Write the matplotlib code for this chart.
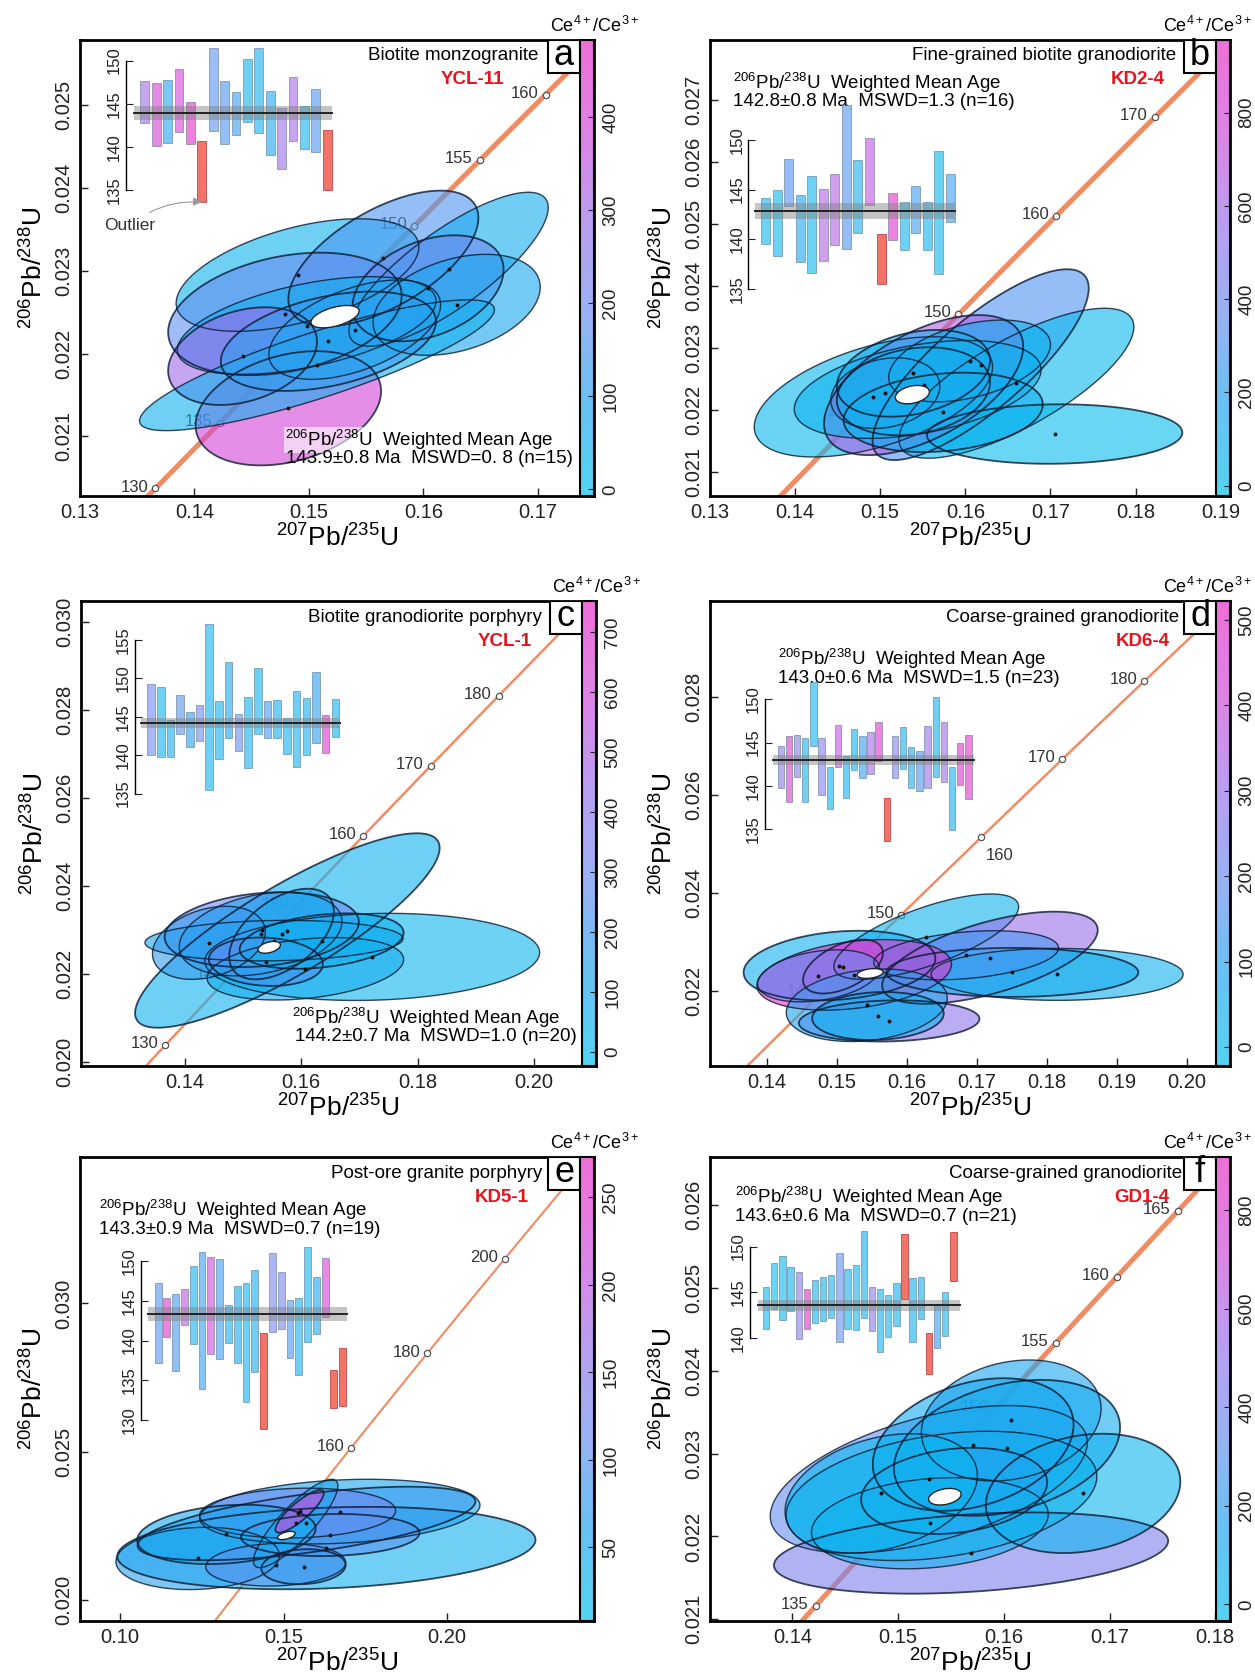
import numpy as np
import matplotlib
matplotlib.use("Agg")
import matplotlib.pyplot as plt
from matplotlib.colors import LinearSegmentedColormap, Normalize
from matplotlib.patches import Polygon, Rectangle
from matplotlib.cm import ScalarMappable

plt.rcParams['font.family'] = ['Liberation Sans', 'DejaVu Sans']
plt.rcParams['mathtext.default'] = 'regular'

# ---------------- data: zircon U-Pb ellipses (x=207Pb/235U, y=206Pb/238U, half widths, rho, Ce4+/Ce3+)
a_ex = [0.1482, 0.1490, 0.1565, 0.1622, 0.1604, 0.1629, 0.1479, 0.1498, 0.1442, 0.1507, 0.1517, 0.1540]
a_ey = [0.02134, 0.02295, 0.02315, 0.02302, 0.02279, 0.02259, 0.02248, 0.02234, 0.02197, 0.02186, 0.02215, 0.02229]
a_sx = [0.0081, 0.0106, 0.0083, 0.0087, 0.0066, 0.0073, 0.0102, 0.0113, 0.0065, 0.0155, 0.0094, 0.0075]
a_sy = [0.00069, 0.00068, 0.00082, 0.00093, 0.00064, 0.00061, 0.00074, 0.00059, 0.00059, 0.00079, 0.00060, 0.00060]
a_rho = [0.3, 0.5, 0.6, 0.8, 0.35, 0.35, 0.3, 0.5, 0.3, 0.85, 0.4, 0.5]
a_ce = [400, 40, 150, 60, 200, 80, 180, 60, 300, 50, 120, 100]

b_ex = [0.1618, 0.1660, 0.1705, 0.1492, 0.1551, 0.1506, 0.1539, 0.1544, 0.1574, 0.1605, 0.1539]
b_ey = [0.02273, 0.02243, 0.02161, 0.02221, 0.02240, 0.02227, 0.02230, 0.02233, 0.02196, 0.02279, 0.02259]
b_sx = [0.0127, 0.0138, 0.0150, 0.0140, 0.0117, 0.0064, 0.0090, 0.0145, 0.0117, 0.0095, 0.0090]
b_sy = [0.00154, 0.00121, 0.00048, 0.00097, 0.00113, 0.00057, 0.00071, 0.00079, 0.00064, 0.00066, 0.00070]
b_rho = [0.8, 0.75, 0.05, 0.5, 0.55, 0.2, 0.2, 0.4, 0.2, 0.4, 0.3]
b_ce = [300, 40, 20, 40, 650, 850, 200, 60, 80, 100, 120]

c_ex = [0.1576, 0.1722, 0.1532, 0.1530, 0.1566, 0.1553, 0.1539, 0.1607, 0.1635, 0.1441]
c_ey = [0.02298, 0.02238, 0.02300, 0.02290, 0.02290, 0.02275, 0.02227, 0.02211, 0.02274, 0.02270]
c_sx = [0.0262, 0.0288, 0.0167, 0.0140, 0.0090, 0.0222, 0.0098, 0.0169, 0.0141, 0.0097]
c_sy = [0.00221, 0.00099, 0.00085, 0.00095, 0.00103, 0.00046, 0.00055, 0.00071, 0.00063, 0.00083]
c_rho = [0.85, 0.1, 0.2, 0.3, 0.5, 0.1, -0.1, 0.3, 0.3, 0.3]
c_ce = [60, 40, 300, 150, 100, 120, 450, 80, 60, 180]

d_ex = [0.1575, 0.1628, 0.1719, 0.1815, 0.1751, 0.1685, 0.1504, 0.1525, 0.1509, 0.1543, 0.1559, 0.1474]
d_ey = [0.02138, 0.02310, 0.02267, 0.02233, 0.02237, 0.02272, 0.02251, 0.02232, 0.02249, 0.02170, 0.02148, 0.02230]
d_sx = [0.0129, 0.0132, 0.0154, 0.0180, 0.0180, 0.0132, 0.0137, 0.0139, 0.0057, 0.0115, 0.0094, 0.0087]
d_sy = [0.00042, 0.00087, 0.00094, 0.00053, 0.00050, 0.00050, 0.00071, 0.00072, 0.00055, 0.00074, 0.00049, 0.00053]
d_rho = [0.1, 0.7, 0.6, 0.0, 0.0, 0.3, 0.2, 0.3, 0.5, 0.2, 0.1, 0.3]
d_ce = [280, 30, 300, 40, 60, 150, 40, 480, 430, 80, 50, 200]

e_ex = [0.1631, 0.1672, 0.1570, 0.1543, 0.1643, 0.1237, 0.1325, 0.1476, 0.1561, 0.1537, 0.1549]
e_ey = [0.02175, 0.02298, 0.02258, 0.02293, 0.02219, 0.02140, 0.02221, 0.02119, 0.02112, 0.02258, 0.02299]
e_sx = [0.0640, 0.0429, 0.0517, 0.0300, 0.0273, 0.0250, 0.0273, 0.0214, 0.0129, 0.0129, 0.0074]
e_sy = [0.00139, 0.00109, 0.00124, 0.00084, 0.00071, 0.00105, 0.00100, 0.00072, 0.00059, 0.00149, 0.00072]
e_rho = [0.2, 0.2, 0.6, 0.1, 0.1, 0.1, 0.2, 0.1, 0.1, 0.85, 0.85]
e_ce = [40, 60, 80, 120, 100, 70, 50, 100, 80, 50, 220]

f_ex = [0.1569, 0.1529, 0.1675, 0.1607, 0.1603, 0.1541, 0.1553, 0.1530, 0.1571, 0.1484]
f_ey = [0.02180, 0.02269, 0.02252, 0.02340, 0.02307, 0.02249, 0.02255, 0.02216, 0.02311, 0.02252]
f_sx = [0.01865, 0.0150, 0.0092, 0.0085, 0.0107, 0.0147, 0.0088, 0.0112, 0.0095, 0.0091]
f_sy = [0.00049, 0.00089, 0.00072, 0.00073, 0.00082, 0.00078, 0.00052, 0.00055, 0.00080, 0.00072]
f_rho = [0.3, 0.5, 0.2, 0.2, 0.3, 0.3, 0.2, 0.2, 0.3, 0.3]
f_ce = [420, 330, 40, 150, 100, 60, 180, 80, 120, 50]

# weighted mean ellipse: x, y, sx, sy, rho
a_mean_ell = [0.15228, 0.022447, 0.0021, 0.000135, 0.5]
b_mean_ell = [0.15378, 0.022246, 0.0020, 0.000148, 0.3]
c_mean_ell = [0.15448, 0.022597, 0.00193, 0.000134, 0.4]
d_mean_ell = [0.15478, 0.022348, 0.00186, 0.00010, 0.3]
e_mean_ell = [0.15086, 0.022174, 0.0027, 0.00014, 0.5]
f_mean_ell = [0.15442, 0.02248, 0.00154, 0.00010, 0.3]

# 206Pb/238U ages (Ma) for the inset bar plots; ce=None -> outlier (red)
a_lo = [142.8, 140.1, 140.4, 141.7, 140.3, 133.6, 141.8, 140.3, 141.4, 142.9, 141.6, 139.0, 137.4, 140.7, 139.7, 139.4, 135.0]
a_hi = [147.6, 147.4, 147.8, 149.0, 145.2, 140.7, 151.4, 147.6, 146.3, 150.2, 151.4, 146.5, 144.5, 148.1, 144.7, 146.7, 141.9]
a_bce = [300, 420, 100, 400, 470, None, 170, 150, 120, 40, 50, 90, 290, 310, 40, 150, None]

b_lo = [139.5, 138.3, 143.3, 137.7, 136.6, 137.8, 139.4, 139.0, 140.6, 143.4, 135.5, 139.9, 138.9, 140.6, 138.9, 136.5, 141.7]
b_hi = [144.2, 145.0, 148.1, 144.5, 146.4, 145.1, 146.6, 153.5, 148.0, 150.2, 140.5, 144.7, 143.7, 145.4, 143.7, 148.9, 146.6]
b_bce = [40, 40, 300, 150, 40, 650, 650, 300, 120, 700, None, 900, 80, 250, 80, 40, 250]

c_lo = [140.0, 139.7, 139.7, 142.8, 141.0, 141.8, 135.4, 139.5, 142.2, 140.6, 138.3, 142.8, 142.2, 142.2, 140.1, 138.5, 140.0, 141.6, 140.3, 142.4]
c_hi = [149.3, 148.9, 144.6, 147.8, 145.6, 146.6, 157.1, 147.0, 152.2, 145.3, 147.6, 151.3, 147.1, 147.2, 144.8, 148.4, 147.4, 150.9, 145.2, 147.3]
c_bce = [300, 60, 80, 250, 150, 300, 60, 60, 130, 280, 60, 60, 200, 80, 60, 60, 80, 150, 700, 60]

d_lo = [139.8, 138.2, 141.0, 138.2, 144.6, 139.0, 137.3, 142.2, 138.6, 141.8, 140.9, 141.4, 142.9, 133.6, 140.9, 142.0, 139.8, 139.4, 139.8, 141.0, 140.5, 134.9, 140.1, 138.5]
d_hi = [144.6, 145.7, 145.9, 145.5, 152.0, 145.5, 142.2, 147.0, 143.4, 146.5, 145.8, 146.2, 147.4, 138.6, 145.7, 146.8, 144.5, 144.0, 146.9, 150.3, 147.4, 142.2, 145.0, 145.9]
d_bce = [280, 470, 260, 40, 40, 250, 40, 380, 40, 40, 120, 330, 470, None, 250, 40, 60, 150, 300, 40, 300, 40, 470, 490]

e_lo = [137.2, 140.5, 136.2, 141.9, 139.6, 133.9, 138.3, 137.7, 139.7, 137.2, 132.3, 136.0, 128.9, 141.1, 141.5, 137.8, 135.7, 139.8, 140.8, 142.9, 131.5, 131.8]
e_hi = [147.2, 145.4, 145.9, 146.5, 149.4, 151.1, 150.5, 150.2, 144.5, 146.9, 147.2, 148.8, 140.9, 151.0, 148.6, 145.1, 145.4, 151.7, 148.0, 150.4, 136.3, 139.0]
e_bce = [100, 260, 90, 200, 40, 80, 220, 80, 40, 50, 40, 50, None, 130, 130, 90, 40, 30, 60, 240, None, None]

f_lo = [141.0, 143.2, 142.0, 143.0, 139.9, 141.0, 141.7, 141.9, 142.2, 139.6, 141.0, 140.9, 142.2, 140.8, 138.5, 140.2, 141.3, 144.3, 139.6, 142.1, 136.1, 139.0, 140.3, 146.2]
f_hi = [145.6, 148.2, 149.0, 147.8, 147.2, 145.4, 146.4, 146.7, 146.9, 149.3, 147.6, 148.0, 151.7, 145.6, 145.4, 144.7, 146.0, 151.4, 146.6, 146.7, 140.6, 143.7, 145.0, 151.6]
f_bce = [30, 30, 30, 60, 500, 900, 30, 60, 30, 330, 60, 60, 100, 450, 60, 60, 60, None, 60, 100, None, 200, 60, None]

mean_age = [143.9, 142.8, 144.2, 143.0, 143.3, 143.6]
mean_err = [0.8, 0.8, 0.7, 0.6, 0.9, 0.6]
mean_txt = ["143.9\u00b10.8 Ma  MSWD=0. 8 (n=15)", "142.8\u00b10.8 Ma  MSWD=1.3 (n=16)",
            "144.2\u00b10.7 Ma  MSWD=1.0 (n=20)", "143.0\u00b10.6 Ma  MSWD=1.5 (n=23)",
            "143.3\u00b10.9 Ma  MSWD=0.7 (n=19)", "143.6\u00b10.6 Ma  MSWD=0.7 (n=21)"]
rocks = ["Biotite monzogranite", "Fine-grained biotite granodiorite", "Biotite granodiorite porphyry",
         "Coarse-grained granodiorite", "Post-ore granite porphyry", "Coarse-grained granodiorite"]
samples = ["YCL-11", "KD2-4", "YCL-1", "KD6-4", "KD5-1", "GD1-4"]
letters = ["a", "b", "c", "d", "e", "f"]

conc_ages = [[130, 135, 140, 145, 150, 155, 160], [140, 150, 160, 170], [130, 140, 150, 160, 170, 180],
             [140, 150, 160, 170, 180], [140, 160, 180, 200], [135, 140, 145, 150, 155, 160, 165]]

xticks = [[0.13, 0.14, 0.15, 0.16, 0.17], [0.13, 0.14, 0.15, 0.16, 0.17, 0.18, 0.19],
          [0.14, 0.16, 0.18, 0.20], [0.14, 0.15, 0.16, 0.17, 0.18, 0.19, 0.20],
          [0.10, 0.15, 0.20], [0.14, 0.15, 0.16, 0.17, 0.18]]
yticks = [[0.021, 0.022, 0.023, 0.024, 0.025], [0.021, 0.022, 0.023, 0.024, 0.025, 0.026, 0.027],
          [0.020, 0.022, 0.024, 0.026, 0.028, 0.030], [0.022, 0.024, 0.026, 0.028],
          [0.020, 0.025, 0.030], [0.021, 0.022, 0.023, 0.024, 0.025, 0.026]]
cb_ticks = [[0, 100, 200, 300, 400], [0, 200, 400, 600, 800], [0, 100, 200, 300, 400, 500, 600, 700],
            [0, 100, 200, 300, 400, 500], [50, 100, 150, 200, 250], [0, 200, 400, 600, 800]]
inset_ticks = [[135, 140, 145, 150], [135, 140, 145, 150], [135, 140, 145, 150, 155],
               [135, 140, 145, 150], [130, 135, 140, 145, 150], [140, 145, 150]]

# decay constants, 1/Ma
L238 = 1.55125e-4
L235 = 9.8485e-4

# ---------------- layout / style ----------------
W, H = 1255, 1675
cmap = LinearSegmentedColormap.from_list('ce', ['#00c0ee', '#1ea4ef', '#6a8cf0', '#9a70ea', '#cf48da', '#e82ac6'])
CONC = '#ef8c64'
RED = '#f26b60'

panels = [
    dict(frame=(80, 594, 40, 496), xlim=(0.13, 0.1749), ylim=(0.02028, 0.02579), clim=(-7, 483),
         ell=(a_ex, a_ey, a_sx, a_sy, a_rho, a_ce), mell=a_mean_ell, bars=(a_lo, a_hi, a_bce),
         inset=(0.090, 0.671, 0.955, 0.126, 0.481, 0.105, 0.491), clw=3.6,
         title_x=0.891, sample_x=0.763, mean_pos=(0.66, 0.123, 'center')),
    dict(frame=(710, 1230, 40, 496), xlim=(0.13, 0.1911), ylim=(0.02061, 0.02797), clim=(-22, 956),
         ell=(b_ex, b_ey, b_sx, b_sy, b_rho, b_ce), mell=b_mean_ell, bars=(b_lo, b_hi, b_bce),
         inset=(0.074, 0.454, 0.781, 0.107, 0.462, 0.087, 0.471), clw=3.6,
         title_x=0.897, sample_x=0.822, mean_pos=(0.044, 0.906, 'left')),
    dict(frame=(81, 596, 601, 1066), xlim=(0.1221, 0.2107), ylim=(0.0199, 0.03047), clim=(-23, 752),
         ell=(c_ex, c_ey, c_sx, c_sy, c_rho, c_ce), mell=c_mean_ell, bars=(c_lo, c_hi, c_bce),
         inset=(0.105, 0.586, 0.916, 0.136, 0.494, 0.117, 0.503), clw=1.8,
         title_x=0.895, sample_x=0.822, mean_pos=(0.67, 0.104, 'center')),
    dict(frame=(710, 1230, 601, 1066), xlim=(0.1319, 0.2062), ylim=(0.02046, 0.02995), clim=(-22, 522),
         ell=(d_ex, d_ey, d_sx, d_sy, d_rho, d_ce), mell=d_mean_ell, bars=(d_lo, d_hi, d_bce),
         inset=(0.105, 0.509, 0.789, 0.136, 0.497, 0.121, 0.507), clw=1.8,
         title_x=0.902, sample_x=0.832, mean_pos=(0.131, 0.875, 'left')),
    dict(frame=(80, 594, 1157, 1621), xlim=(0.0877, 0.245), ylim=(0.01929, 0.03494), clim=(8, 273),
         ell=(e_ex, e_ey, e_sx, e_sy, e_rho, e_ce), mell=e_mean_ell, bars=(e_lo, e_hi, e_bce),
         inset=(0.119, 0.433, 0.776, 0.152, 0.511, 0.133, 0.519), clw=1.5,
         title_x=0.900, sample_x=0.821, mean_pos=(0.036, 0.885, 'left')),
    dict(frame=(710, 1230, 1157, 1621), xlim=(0.1322, 0.1814), ylim=(0.02098, 0.02658), clim=(-34, 908),
         ell=(f_ex, f_ey, f_sx, f_sy, f_rho, f_ce), mell=f_mean_ell, bars=(f_lo, f_hi, f_bce),
         inset=(0.076, 0.609, 0.807, 0.108, 0.468, 0.092, 0.480), clw=3.6,
         title_x=0.907, sample_x=0.83, mean_pos=(0.049, 0.913, 'left')),
]


def ell_xy(cx, cy, sx, sy, rho, n=160):
    t = np.linspace(0, 2 * np.pi, n)
    x = cx + sx * np.cos(t)
    y = cy + sy * (rho * np.cos(t) + np.sqrt(1 - rho ** 2) * np.sin(t))
    return np.column_stack([x, y])


fig = plt.figure(figsize=(W / 100, H / 100), dpi=100)

for k, p in enumerate(panels):
    x0, x1, y0, y1 = p['frame']
    fw, fh = x1 - x0, y1 - y0
    ax = fig.add_axes([x0 / W, 1 - y1 / H, fw / W, fh / H])
    ax.set_xlim(*p['xlim'])
    ax.set_ylim(*p['ylim'])
    norm = Normalize(*p['clim'])

    # concordia
    t = np.linspace(0, 400, 2000)
    ax.plot(np.exp(L235 * t) - 1, np.exp(L238 * t) - 1, color=CONC, lw=p['clw'], zorder=1, solid_capstyle='butt')
    for age in conc_ages[k]:
        cx, cy = np.exp(L235 * age) - 1, np.exp(L238 * age) - 1
        ax.plot(cx, cy, 'o', ms=4.5, mfc='white', mec='#555555', mew=0.9, zorder=2)
        if k == 3 and age == 160:
            ax.annotate(str(age), (cx, cy), xytext=(3, -8), textcoords='offset points',
                        ha='left', va='top', fontsize=12, color='#333333', zorder=2)
        else:
            ax.annotate(str(age), (cx, cy), xytext=(-5, 1), textcoords='offset points',
                        ha='right', va='center', fontsize=12, color='#333333', zorder=2)

    # error ellipses coloured by Ce4+/Ce3+
    ex, ey, sx, sy, rho, ce = p['ell']
    for i in range(len(ex)):
        pts = ell_xy(ex[i], ey[i], sx[i], sy[i], rho[i])
        ax.add_patch(Polygon(pts, closed=True, facecolor=cmap(norm(ce[i])), alpha=0.6,
                             edgecolor='none', zorder=3))
        ax.add_patch(Polygon(pts, closed=True, facecolor='none', edgecolor='#0a1a30',
                             lw=1.0 if i % 2 else 1.3, alpha=0.8, zorder=3.5))
    ax.plot(ex, ey, 'o', ms=1.8, color='#111111', zorder=4)
    mx, my, msx, msy, mr = p['mell']
    ax.add_patch(Polygon(ell_xy(mx, my, msx, msy, mr), closed=True, facecolor='white',
                         edgecolor='#222222', lw=1.0, zorder=5))

    # axes cosmetics
    ax.set_xticks(xticks[k])
    ax.set_xticklabels(['%.2f' % v for v in xticks[k]])
    ax.set_yticks(yticks[k])
    ax.set_yticklabels(['%.3f' % v for v in yticks[k]], rotation=90, va='center')
    ax.tick_params(direction='in', length=6, width=1, labelsize=14.5, colors='#222222', pad=5)
    for s in ax.spines.values():
        s.set_linewidth(2.0)
    ax.set_xlabel(r'$^{207}$Pb/$^{235}$U', fontsize=19, labelpad=2)
    ax.set_ylabel(r'$^{206}$Pb/$^{238}$U', fontsize=19, labelpad=5)

    # colour bar strip inside the frame
    cbw = 14
    cax = fig.add_axes([(x1 - cbw) / W, 1 - y1 / H, cbw / W, fh / H])
    cb = fig.colorbar(ScalarMappable(norm=norm, cmap=cmap), cax=cax, alpha=0.68)
    cb.set_ticks(cb_ticks[k])
    cax.tick_params(direction='in', length=4, width=0.8, labelsize=13.5, pad=6, colors='#222222')
    for lab in cax.get_yticklabels():
        lab.set_rotation(90)
        lab.set_va('center')
    cb.outline.set_linewidth(1.5)
    if x1 > W / 2:
        ax.text((W - 3 - x0) / fw, 1.008, r'Ce$^{4+}$/Ce$^{3+}$', transform=ax.transAxes,
                ha='right', va='bottom', fontsize=13)
    else:
        ax.text(1 - 0.5 * cbw / fw + 0.015, 1.008, r'Ce$^{4+}$/Ce$^{3+}$', transform=ax.transAxes,
                ha='center', va='bottom', fontsize=13)

    # panel letter box, rock name and sample
    bw, bh = 32 / fw, 33 / fh
    bx = 1 - cbw / fw - bw
    ax.add_patch(Rectangle((bx, 1 - bh), bw, bh, transform=ax.transAxes, facecolor='white',
                           edgecolor='black', lw=1.5, zorder=6))
    ax.text(bx + bw / 2, 1 - bh / 2 + 0.003, letters[k], transform=ax.transAxes, ha='center', va='center',
            fontsize=26, zorder=7)
    ax.text(p['title_x'], 1 - 16 / fh, rocks[k], transform=ax.transAxes, ha='right', va='center',
            fontsize=13.5, zorder=6)
    ax.text(p['sample_x'], 1 - 40 / fh, samples[k], transform=ax.transAxes, ha='center', va='center',
            fontsize=13.5, color='#e8141c', fontweight='bold', zorder=6)

    mxp, myp, mha = p['mean_pos']
    ax.text(mxp, myp, r'$^{206}$Pb/$^{238}$U  Weighted Mean Age', transform=ax.transAxes, ha=mha,
            va='center', fontsize=13.5, zorder=6,
            bbox=dict(facecolor='white', edgecolor='none', alpha=0.6, pad=1))
    ax.text(mxp + (0.02 if mha == 'center' else 0.0), myp - 19 / fh, mean_txt[k], transform=ax.transAxes,
            ha=mha, va='center', fontsize=13.5, zorder=6)

    # inset weighted-mean bar plot
    lo, hi, bce = p['bars']
    axx, yb, yt, c0, c1, m0, m1 = p['inset']
    n = len(lo)
    pitch = (c1 - c0) / (n - 1)
    pos = ax.get_position()
    iax = fig.add_axes([pos.x0 + axx * pos.width, pos.y0 + yb * pos.height,
                        (m1 - axx) * pos.width, (yt - yb) * pos.height])
    iax.patch.set_alpha(0)
    iax.set_xlim((axx - c0) / pitch, (m1 - c0) / pitch)
    iax.set_ylim(inset_ticks[k][0], inset_ticks[k][-1])
    for i in range(n):
        if bce[i] is None:
            fc, ec, al = RED, '#c04040', 0.95
        else:
            fc, ec, al = cmap(norm(bce[i])), '#4a6a8a', 0.6
        iax.bar(i, hi[i] - lo[i], bottom=lo[i], width=0.78, color=fc, alpha=al,
                edgecolor=ec, linewidth=0.6, clip_on=False)
    xs = [(m0 - c0) / pitch, (m1 - c0) / pitch]
    iax.fill_between(xs, mean_age[k] - mean_err[k], mean_age[k] + mean_err[k], color='#808080',
                     alpha=0.45, lw=0, clip_on=False)
    iax.plot(xs, [mean_age[k]] * 2, color='#222222', lw=1.4, clip_on=False)
    for s in ['top', 'right', 'bottom']:
        iax.spines[s].set_visible(False)
    iax.spines['left'].set_linewidth(1.0)
    iax.set_xticks([])
    iax.set_yticks(inset_ticks[k])
    iax.tick_params(axis='y', direction='in', length=5, labelsize=12, pad=3, colors='#222222')
    for lab in iax.get_yticklabels():
        lab.set_rotation(90)
        lab.set_va('center')

    if k == 0:
        iax.annotate('Outlier', xy=(5, lo[5]), xytext=(-1.3, 130.9), textcoords='data',
                     ha='center', va='center', fontsize=12.5, color='#333333', annotation_clip=False,
                     arrowprops=dict(arrowstyle='-|>', color='#999999', lw=0.8, shrinkA=4, shrinkB=0,
                                     connectionstyle='arc3,rad=-0.2'))

fig.savefig('out.png', dpi=100)
